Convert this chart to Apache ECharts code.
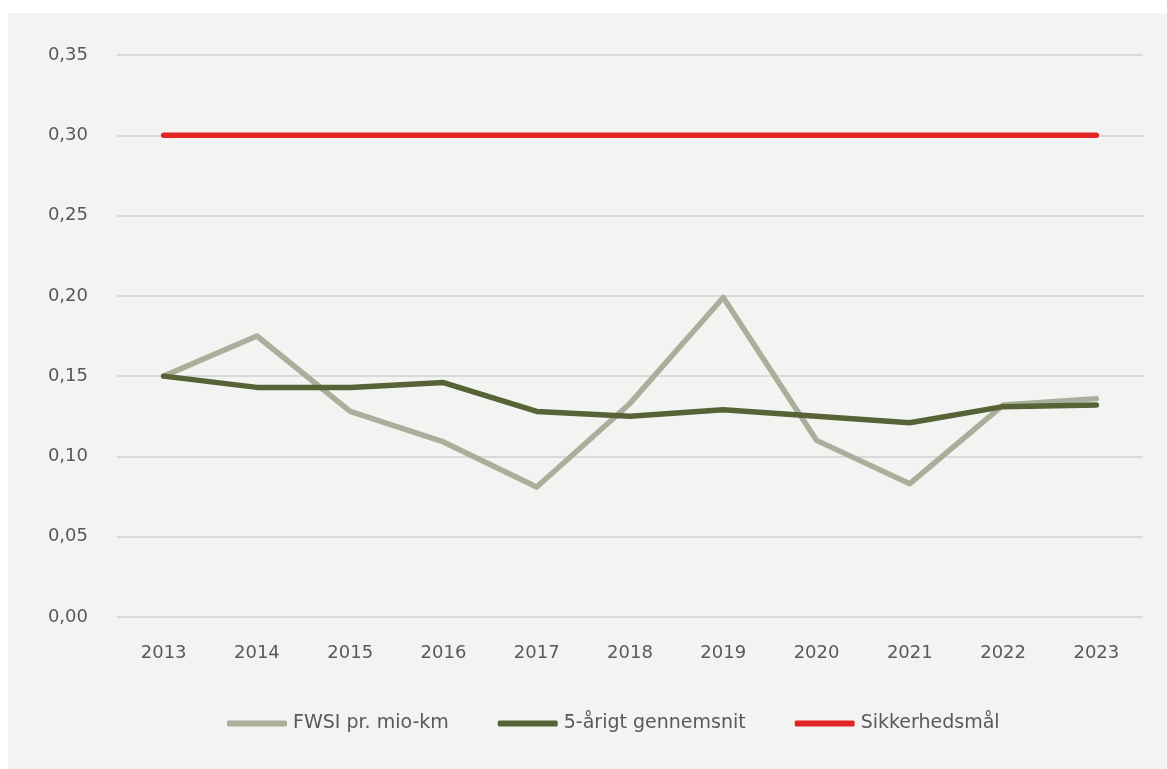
<!DOCTYPE html>
<html>
<head>
<meta charset="utf-8">
<script src="https://cdn.jsdelivr.net/npm/echarts@6/dist/echarts.min.js"></script>
<style>
  html, body { margin: 0; padding: 0; background: #fff; }
  #chart { position: absolute; left: 8px; top: 13px; width: 1159px; height: 756px; background: #f3f3f2; }
</style>
</head>
<body>
<div id="chart"></div>
<script>
const years = ['2013', '2014', '2015', '2016', '2017', '2018', '2019', '2020', '2021', '2022', '2023']
const fwsi = [0.150, 0.175, 0.128, 0.109, 0.081, 0.133, 0.199, 0.110, 0.083, 0.132, 0.136]
const avg5 = [0.150, 0.143, 0.143, 0.146, 0.128, 0.125, 0.129, 0.125, 0.121, 0.131, 0.132]
const target = [0.30, 0.30, 0.30, 0.30, 0.30, 0.30, 0.30, 0.30, 0.30, 0.30, 0.30]

const names = ['FWSI pr. mio-km', '5-årigt gennemsnit', 'Sikkerhedsmål']
const colors = ['#aaae9b', '#566337', '#e32526']

let chart = echarts.init(document.getElementById('chart'))

let makeSeries = (name, data, color) => ({
  name: name,
  type: 'line',
  data: data,
  symbol: 'none',
  color: color,
  lineStyle: { width: 5.5, color: color, cap: 'round', join: 'round' },
  emphasis: { disabled: true }
})

chart.setOption({
  animation: false,
  backgroundColor: '#f3f3f2',
  textStyle: { fontFamily: 'DejaVu Sans' },
  grid: { left: 109, right: 24, top: 42, bottom: 152 },
  legend: {
    top: 696,
    left: 214,
    icon: 'roundRect',
    itemWidth: 60,
    itemHeight: 6,
    itemGap: 49,
    textStyle: { fontSize: 19, color: '#595959', padding: [0, 0, 0, 1] },
    data: names
  },
  xAxis: {
    type: 'category',
    data: years,
    boundaryGap: true,
    axisLine: { show: false },
    axisTick: { show: false },
    axisLabel: { fontSize: 18, color: '#595959', margin: 27 }
  },
  yAxis: {
    type: 'value',
    min: 0,
    max: 0.35,
    interval: 0.05,
    axisLine: { show: false },
    axisTick: { show: false },
    splitLine: { lineStyle: { color: '#d9d9d9', width: 2 } },
    axisLabel: {
      fontSize: 18,
      color: '#595959',
      margin: 29,
      formatter: v => v.toFixed(2).replace('.', ',')
    }
  },
  series: [
    makeSeries(names[0], fwsi, colors[0]),
    makeSeries(names[1], avg5, colors[1]),
    makeSeries(names[2], target, colors[2])
  ]
})
</script>
</body>
</html>
